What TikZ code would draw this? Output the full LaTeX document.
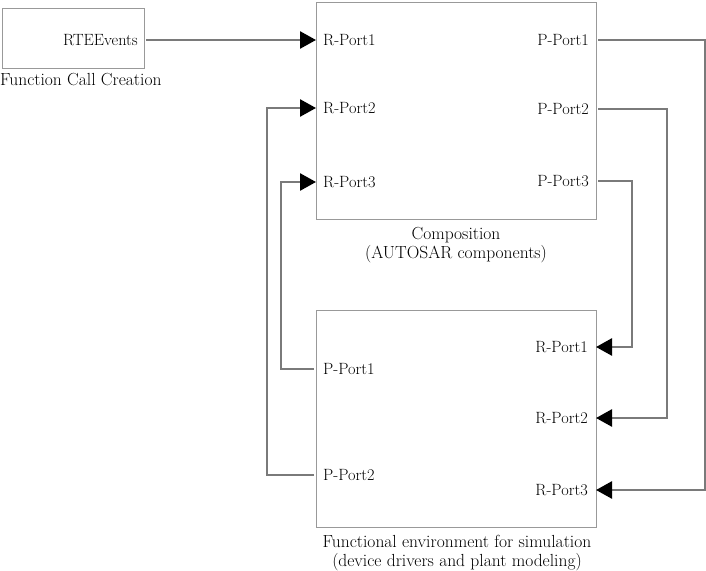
\documentclass[tikz,border=0pt]{standalone}
\usetikzlibrary{arrows.meta}
\begin{document}
\begin{tikzpicture}[x=1pt,y=-1pt,
  box/.style={draw=black!40, line width=1.2pt, inner sep=0pt},
  lbl/.style={font=\fontsize{16.3}{19}\selectfont, inner sep=0pt, text=black},
  captxt/.style={font=\fontsize{17.5}{19.5}\selectfont, inner sep=0pt, align=center, text=black},
  wire/.style={draw=black!52, line width=2.6pt,
    -{Triangle[length=16pt,width=17pt,color=black]}}]
\useasboundingbox (0,0) rectangle (706,570);

% boxes
\node[box, anchor=north west, minimum width=142pt, minimum height=60pt] (rtebox) at (2,8) {};
\node[box, anchor=north west, minimum width=280pt, minimum height=217pt] (comp) at (316,2) {};
\node[box, anchor=north west, minimum width=280pt, minimum height=217pt] (env) at (316,310) {};

% captions
\node[captxt, anchor=west] (fcc) at (0,80) {Function Call Creation};
\node[captxt] (compcap) at (456,245) {Composition\\(AUTOSAR components)};
\node[captxt] (envcap) at (457,553) {Functional environment for simulation\\(device drivers and plant modeling)};

% port labels
\node[lbl, anchor=east] (rte) at (138,40) {RTEEvents};
\node[lbl, anchor=west] (crp1) at (323,40) {R-Port1};
\node[lbl, anchor=west] (crp2) at (323,108) {R-Port2};
\node[lbl, anchor=west] (crp3) at (323,182) {R-Port3};
\node[lbl, anchor=east] (cpp1) at (589,40) {P-Port1};
\node[lbl, anchor=east] (cpp2) at (589,109) {P-Port2};
\node[lbl, anchor=east] (cpp3) at (589,181) {P-Port3};
\node[lbl, anchor=west] (epp1) at (323,369) {P-Port1};
\node[lbl, anchor=west] (epp2) at (323,475) {P-Port2};
\node[lbl, anchor=east] (erp1) at (588,347) {R-Port1};
\node[lbl, anchor=east] (erp2) at (588,418) {R-Port2};
\node[lbl, anchor=east] (erp3) at (588,490) {R-Port3};

% port points on box edges
\coordinate (rteo) at (146,40);
\coordinate (crp1i) at (316,40);
\coordinate (crp2i) at (316,108);
\coordinate (crp3i) at (316,182);
\coordinate (cpp1o) at (598,40);
\coordinate (cpp2o) at (598,109);
\coordinate (cpp3o) at (598,181);
\coordinate (epp1o) at (314,369);
\coordinate (epp2o) at (314,475);
\coordinate (erp1i) at (596,347);
\coordinate (erp2i) at (596,418);
\coordinate (erp3i) at (596,490);

% connectors
\draw[wire] (rteo) -- (crp1i);
\draw[wire] (cpp1o) -- (705,40) |- (erp3i);
\draw[wire] (cpp2o) -- (667,109) |- (erp2i);
\draw[wire] (cpp3o) -- (632,181) |- (erp1i);
\draw[wire] (epp1o) -- (281,369) |- (crp3i);
\draw[wire] (epp2o) -- (267,475) |- (crp2i);
\end{tikzpicture}
\end{document}
